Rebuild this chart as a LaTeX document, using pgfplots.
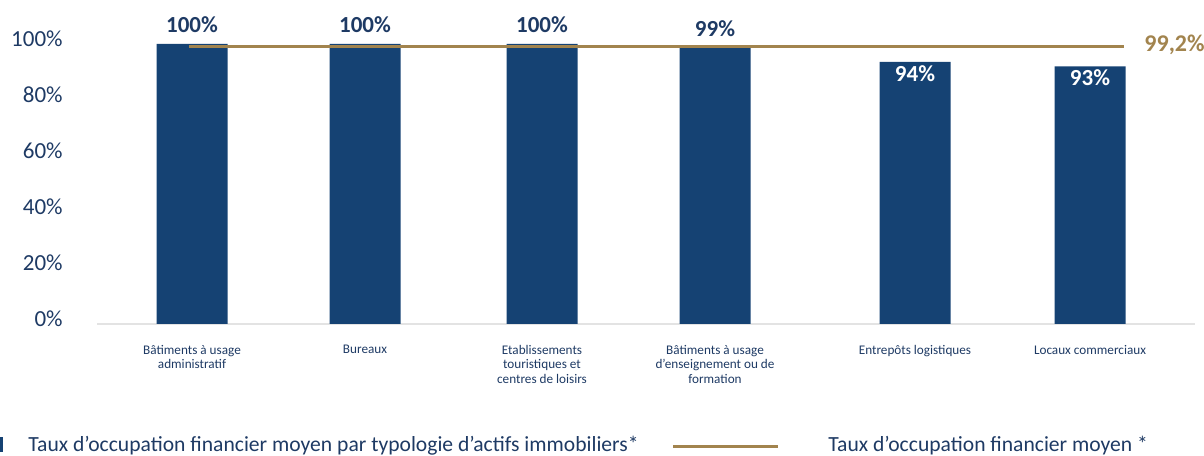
\documentclass[border=0pt]{standalone}
\usepackage{fontspec}
\setmainfont{Carlito}
\usepackage{pgfplots}
\pgfplotsset{compat=1.18}
\definecolor{barblue}{HTML}{154273}
\definecolor{navy}{HTML}{1E3A64}
\definecolor{gold}{HTML}{A2844E}
\definecolor{axisgray}{HTML}{E3E3E3}
\begin{document}
\begin{tikzpicture}
\begin{axis}[
  scale only axis, width=602pt, height=162pt,
  xmin=0, xmax=1204, ymin=0, ymax=115.714,
  axis line style={draw=none}, tick style={draw=none},
  clip=false,
  ytick={0,20,40,60,80,100},
  yticklabels={0\%,20\%,40\%,60\%,80\%,100\%},
  yticklabel style={anchor=east, inner sep=0pt, xshift=31.5pt, yshift=2.5pt,
    font=\fontsize{11.5}{13}\selectfont, text=navy},
  xtick={192,365,542,715,915,1090},
  xticklabels={{Bâtiments à usage\\administratif},{Bureaux},
    {Etablissements\\touristiques et\\centres de loisirs},
    {Bâtiments à usage\\d’enseignement ou de\\formation},
    {Entrepôts logistiques},{Locaux commerciaux}},
  xticklabel style={align=center, anchor=north, inner sep=0pt, yshift=-6pt,
    font=\fontsize{6.6}{7.4}\selectfont, text=navy},
  ybar, bar width=71,
]
% axis base line
\addplot[sharp plot, color=axisgray, line width=1pt, mark=none, forget plot]
  coordinates {(97,0) (1195,0)};
% bars with label above
\addplot[fill=barblue, draw=none, bar shift=0pt, point meta=explicit symbolic,
  nodes near coords,
  nodes near coords style={anchor=south, inner sep=0pt, yshift=5.5pt,
    font=\bfseries\fontsize{11.5}{13}\selectfont, text=navy}]
  coordinates {(192,100)[100\%] (365,100)[100\%] (542,100)[100\%] (715,98.6)[99\%]};
% bars with label inside
\addplot[fill=barblue, draw=none, bar shift=0pt, point meta=explicit symbolic,
  nodes near coords,
  nodes near coords style={anchor=north, inner sep=0pt, yshift=-1.5pt,
    font=\bfseries\fontsize{11.5}{13}\selectfont, text=white}]
  coordinates {(915,93.6)[94\%] (1090,92)[93\%]};
% average line
\addplot[sharp plot, color=gold, line width=1.5pt, mark=none]
  coordinates {(189,99.2) (1124,99.2)};
\node[anchor=west, inner sep=0pt, text=gold, font=\bfseries\fontsize{12}{13}\selectfont]
  at (axis cs:1144,99.6) {99,2\%};
% legend
\fill[barblue] (axis cs:0,-40.4) rectangle (axis cs:3,-45.7);
\node[anchor=base west, inner sep=0pt, text=navy, font=\fontsize{10.8}{12}\selectfont]
  at (axis cs:28,-45.6) {Taux d’occupation financier moyen par typologie d’actifs immobiliers*};
\draw[gold, line width=1.5pt] (axis cs:673,-43.6) -- (axis cs:778,-43.6);
\node[anchor=base west, inner sep=0pt, text=navy, font=\fontsize{10.8}{12}\selectfont]
  at (axis cs:828,-45.6) {Taux d’occupation financier moyen *};
\coordinate (bb1) at (axis cs:0,-46.79);
\coordinate (bb2) at (axis cs:1204,115.714);
\end{axis}
\pgfresetboundingbox
\path[use as bounding box] (bb1) rectangle (bb2);
\end{tikzpicture}
\end{document}
